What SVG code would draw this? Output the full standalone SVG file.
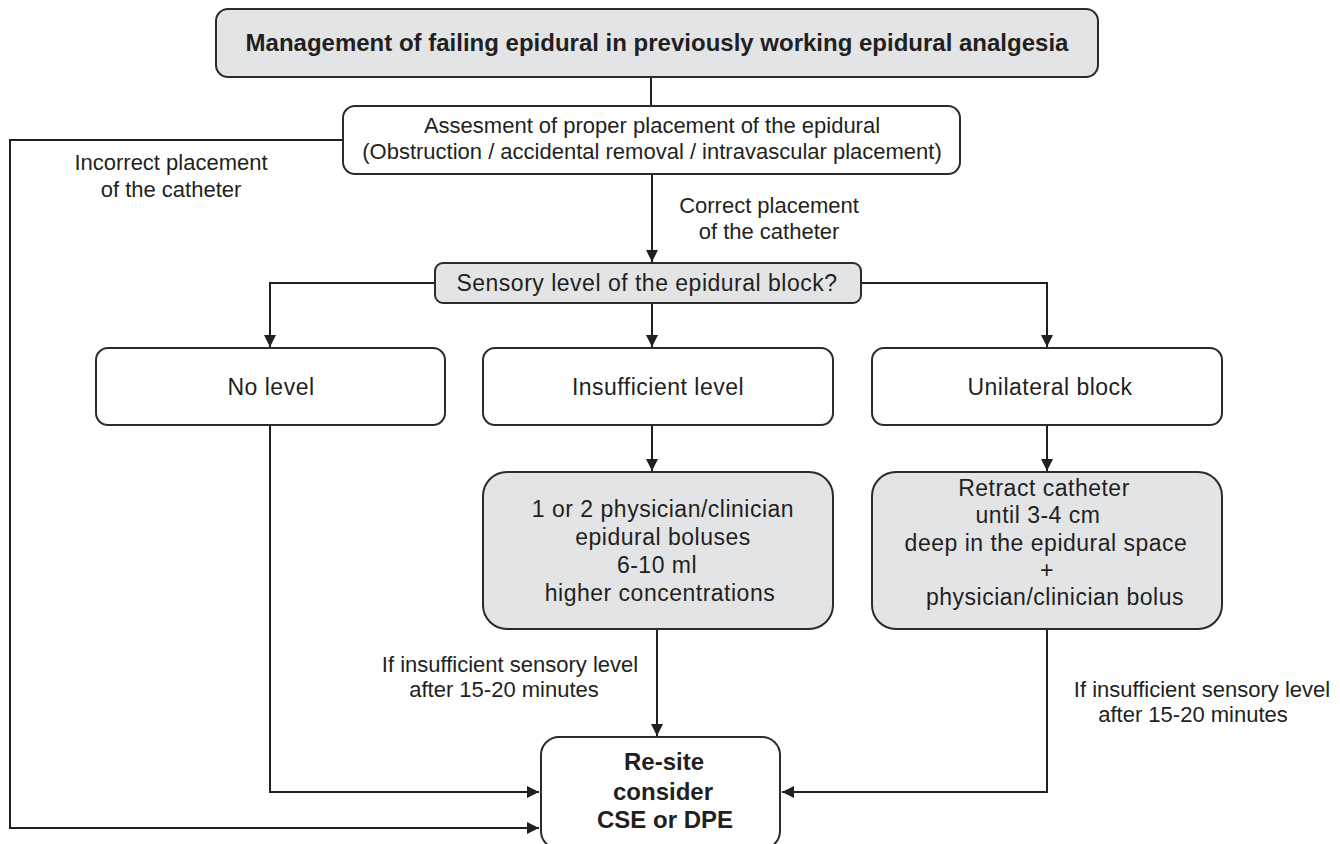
<svg xmlns="http://www.w3.org/2000/svg" width="1340" height="844" viewBox="0 0 1340 844">
<defs>
<marker id="arr" viewBox="0 0 12 12" refX="12" refY="6" markerWidth="12" markerHeight="12" markerUnits="userSpaceOnUse" orient="auto">
<path d="M0,0 L12,6 L0,12 Z" fill="#231f20"/>
</marker>
</defs>
<style>
.box{fill:#ffffff;stroke:#2b2b2b;stroke-width:2}
.gbox{fill:#e3e4e6;stroke:#2b2b2b;stroke-width:2}
.ln{fill:none;stroke:#231f20;stroke-width:2}
.t{font-family:"Liberation Sans",Arial,sans-serif;font-size:23px;letter-spacing:0.5px;fill:#231f20;text-anchor:middle}
.c{font-family:"Liberation Sans",Arial,sans-serif;font-size:22px;fill:#231f20;text-anchor:middle}
.b{font-family:"Liberation Sans",Arial,sans-serif;font-size:24px;font-weight:bold;fill:#231f20;text-anchor:middle}
</style>
<rect width="1340" height="844" fill="#ffffff"/>
<g id="connectors">
<path class="ln" d="M651,77 V106"/>
<path class="ln" d="M652,174 V262" marker-end="url(#arr)"/>
<path class="ln" d="M343,140 H10 V828 H539" marker-end="url(#arr)"/>
<path class="ln" d="M435,283 H270 V347" marker-end="url(#arr)"/>
<path class="ln" d="M652,303 V347" marker-end="url(#arr)"/>
<path class="ln" d="M861,283 H1047 V347" marker-end="url(#arr)"/>
<path class="ln" d="M652,425 V471" marker-end="url(#arr)"/>
<path class="ln" d="M1047,425 V471" marker-end="url(#arr)"/>
<path class="ln" d="M657,629 V736" marker-end="url(#arr)"/>
<path class="ln" d="M270,425 V792 H539" marker-end="url(#arr)"/>
<path class="ln" d="M1047,629 V792 H782" marker-end="url(#arr)"/>
<text class="c" x="171" y="170">Incorrect placement</text>
<text class="c" x="171" y="197">of the catheter</text>
<text class="c" x="769" y="213">Correct placement</text>
<text class="c" x="769" y="239">of the catheter</text>
<text class="c" x="510" y="672">If insufficient sensory level</text>
<text class="c" x="504" y="697">after 15-20 minutes</text>
<text class="c" x="1202" y="697">If insufficient sensory level</text>
<text class="c" x="1193" y="722">after 15-20 minutes</text>
</g>
<g id="title">
<rect class="gbox" x="216" y="9" width="882" height="68" rx="12"/>
<text class="b" x="657" y="51">Management of failing epidural in previously working epidural analgesia</text>
</g>
<g id="assessment">
<rect class="box" x="343" y="106" width="617" height="68" rx="12"/>
<text class="c" x="652" y="133">Assesment of proper placement of the epidural</text>
<text class="c" x="652" y="159">(Obstruction / accidental removal / intravascular placement)</text>
</g>
<g id="sensory">
<rect class="gbox" x="435" y="263" width="426" height="40" rx="8"/>
<text class="t" x="647" y="291">Sensory level of the epidural block?</text>
</g>
<g id="nolevel">
<rect class="box" x="96" y="348" width="349" height="77" rx="12"/>
<text class="t" x="271" y="395">No level</text>
</g>
<g id="insufficient">
<rect class="box" x="483" y="348" width="350" height="77" rx="12"/>
<text class="t" x="658" y="395">Insufficient level</text>
</g>
<g id="unilateral">
<rect class="box" x="872" y="348" width="350" height="77" rx="12"/>
<text class="t" x="1050" y="395">Unilateral block</text>
</g>
<g id="boluses">
<rect class="gbox" x="483" y="472" width="350" height="157" rx="24"/>
<text class="t" x="663" y="517">1 or 2 physician/clinician</text>
<text class="t" x="663" y="545">epidural boluses</text>
<text class="t" x="657" y="573">6-10 ml</text>
<text class="t" x="660" y="601">higher concentrations</text>
</g>
<g id="retract">
<rect class="gbox" x="872" y="472" width="350" height="157" rx="24"/>
<text class="t" x="1044" y="496">Retract catheter</text>
<text class="t" x="1038" y="523">until 3-4 cm</text>
<text class="t" x="1046" y="551">deep in the epidural space</text>
<text class="t" x="1047" y="578">+</text>
<text class="t" x="1055" y="605">physician/clinician bolus</text>
</g>
<g id="resite">
<rect class="box" x="541" y="737" width="239" height="112" rx="18"/>
<text class="b" x="664" y="770">Re-site</text>
<text class="b" x="663" y="800">consider</text>
<text class="b" x="665" y="828">CSE or DPE</text>
</g>
</svg>
